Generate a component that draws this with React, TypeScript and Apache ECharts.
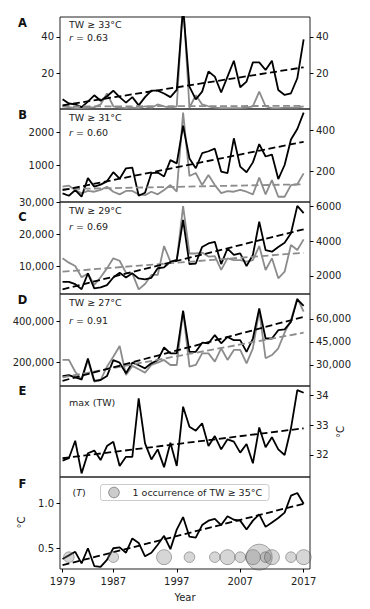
import React, { useEffect, useRef } from 'react';
import * as echarts from 'echarts';

const years = [1979, 1980, 1981, 1982, 1983, 1984, 1985, 1986, 1987, 1988, 1989, 1990, 1991, 1992, 1993, 1994, 1995, 1996, 1997, 1998, 1999, 2000, 2001, 2002, 2003, 2004, 2005, 2006, 2007, 2008, 2009, 2010, 2011, 2012, 2013, 2014, 2015, 2016, 2017];
const xTicks = [1979, 1987, 1997, 2007, 2017];
const trendYears = [1979, 2017];

// Panel A (TW >= 33)
const aBlack = [5.8, 3.5, 3.0, 1.5, 4.5, 8.0, 5.0, 7.5, 10.5, 7.0, 4.0, 7.0, 2.5, 7.0, 10.5, 10.5, 9.0, 7.0, 11.0, 56, 12.7, 5.8, 10.0, 21.0, 18.2, 9.5, 18.2, 26.9, 12.4, 15.5, 26.0, 26.0, 21.8, 26.9, 10.9, 8.2, 9.1, 17.3, 38.6];
const aGray = [2, 1.5, 1, 1, 1.2, 1.5, 3, 9, 2, 1.2, 1, 1.2, 1, 2, 1.2, 3, 2, 1.2, 2, 60, 1.2, 8, 3, 2, 1.2, 1, 1, 1, 1, 1.2, 2, 10, 2, 1, 1, 1.2, 1.2, 1.2, 2];
const aBlackTrend = [2.5, 23.3];
const aGrayTrend = [1.9, 2.2];
const aLeftTicks = [20, 40];
const aRightTicks = [20, 40];

// Panel B (TW >= 31)
const bBlack = [130, 60, 230, 30, 600, 340, 400, 500, 780, 580, 900, 920, 60, 150, 750, 770, 650, 1150, 1050, 2200, 1200, 900, 1360, 1420, 1500, 800, 750, 1816, 950, 780, 1080, 1640, 1260, 1320, 570, 1000, 1780, 2100, 2600];
const bGray = [122, 127, 106, 89, 101, 97, 106, 122, 97, 84, 101, 101, 84, 80, 97, 84, 106, 130, 97, 490, 175, 190, 130, 180, 130, 90, 100, 97, 106, 97, 84, 167, 84, 155, 72, 72, 130, 134, 188];
const bBlackTrend = [230, 1710];
const bGrayTrend = [110, 134];
const bLeftTicks = [1000, 2000];
const bRightTicks = [200, 400];

// Panel C (TW >= 29)
const cBlack = [5000, 5000, 4300, 2700, 7700, 3000, 3300, 4000, 6400, 7900, 6400, 7700, 6100, 5800, 6300, 9300, 9600, 11300, 11900, 24500, 10600, 10800, 16000, 17100, 17600, 10600, 15500, 13500, 14000, 10000, 13500, 23900, 15000, 14500, 16000, 17300, 20300, 28900, 26600];
const cGray = [3020, 2770, 2580, 1930, 2150, 1480, 1925, 2440, 3020, 2880, 2190, 2150, 1230, 1540, 2060, 2060, 3730, 2830, 2880, 6035, 3300, 3300, 3350, 3120, 3150, 2350, 3020, 2920, 2920, 2825, 2920, 3730, 2345, 3020, 1870, 2250, 3790, 3500, 4115];
const cBlackTrend = [2670, 21540];
const cGrayTrend = [2250, 3340];
const cLeftTicks = [10000, 20000, 30000];
const cRightTicks = [2000, 4000, 6000];

// Panel D (TW >= 27)
const dBlack = [136000, 140000, 130000, 120000, 220000, 113000, 117000, 136000, 212000, 200000, 149000, 200000, 188000, 173000, 197000, 212000, 273000, 245000, 245000, 449000, 252000, 252000, 296000, 293000, 332000, 293000, 324000, 308000, 308000, 252000, 316000, 460000, 316000, 316000, 356000, 360000, 396000, 504000, 472000];
const dGray = [33300, 33300, 25600, 20200, 33300, 19100, 20200, 28900, 35400, 42400, 23500, 29400, 27200, 25000, 30000, 31500, 33300, 30000, 30000, 65400, 28900, 30000, 37600, 37600, 32200, 40900, 33300, 39800, 39800, 31100, 40900, 65400, 34400, 36500, 40900, 51100, 59400, 73500, 64800];
const dBlackTrend = [113200, 420100];
const dGrayTrend = [21900, 51070];
const dLeftTicks = [200000, 400000];
const dRightTicks = [30000, 45000, 60000];

// Panel E max(TW)
const eMax = [31.81, 31.89, 32.48, 31.38, 32.06, 32.15, 31.83, 32.30, 32.45, 31.63, 31.94, 31.94, 33.91, 32.39, 31.85, 32.19, 31.59, 32.41, 31.63, 33.63, 32.95, 32.82, 33.07, 32.30, 32.64, 32.19, 32.53, 32.45, 32.08, 32.37, 31.72, 32.93, 32.26, 32.60, 32.19, 32.0, 32.9, 34.19, 34.10];
const eTrend = [31.89, 32.9];
const eTicks = [32, 33, 34];

// Panel F (T)
const fT = [0.38, 0.42, 0.46, 0.33, 0.50, 0.30, 0.29, 0.37, 0.50, 0.51, 0.45, 0.61, 0.56, 0.41, 0.45, 0.54, 0.64, 0.49, 0.71, 0.85, 0.63, 0.62, 0.76, 0.81, 0.83, 0.76, 0.86, 0.82, 0.81, 0.71, 0.81, 0.88, 0.74, 0.79, 0.84, 0.90, 1.09, 1.12, 1.00];
const fTrend = [0.31, 1.0];
const fTicks = [0.5, 1.0];
const bubbleYears = [1980, 1987, 1995, 1999, 2003, 2005, 2007, 2009, 2010, 2011, 2012, 2015, 2017];
const bubbleCounts = [1, 1, 2, 1, 1, 2, 1, 2, 6, 1, 2, 1, 2];
const bubbleLevel = 0.4;

const FONT = 'DejaVu Sans';
const TXT = '#222';
const BLACK = '#000';
const GRAY = '#8c8c8c';

const grids = [
  { top: 17, height: 92 },
  { top: 109, height: 93 },
  { top: 202, height: 92 },
  { top: 294, height: 92 },
  { top: 386, height: 91 },
  { top: 477, height: 92 },
];

const comma = (v: number) => Math.round(v).toLocaleString('en-US');
const plain = (v: number) => String(v);
const oneDec = (v: number) => v.toFixed(1);

function yAx(gridIndex: number, position: string, min: number, max: number, ticks: number[], fmt: (v: number) => string) {
  return {
    type: 'value', gridIndex, position, min, max,
    axisLine: { show: false },
    splitLine: { show: false },
    axisTick: { show: true, inside: false, length: 3.5, lineStyle: { color: '#000', width: 1 }, customValues: ticks },
    axisLabel: { show: true, margin: 6, customValues: ticks, formatter: fmt, fontSize: 10, fontFamily: FONT, color: TXT },
  };
}

function xAx(gridIndex: number, showTicks: boolean) {
  return {
    type: 'value', gridIndex, min: 1978.6, max: 2018,
    axisLine: { show: false },
    splitLine: { show: false },
    axisTick: { show: showTicks, length: 3.5, lineStyle: { color: '#000', width: 1 }, customValues: xTicks },
    axisLabel: { show: showTicks, margin: 7, customValues: xTicks, formatter: plain, fontSize: 10, fontFamily: FONT, color: TXT },
  };
}

const pairs = (vals: number[]) => years.map((y, i) => [y, vals[i]]);
const tpairs = (vals: number[]) => trendYears.map((y, i) => [y, vals[i]]);

function line(xi: number, yi: number, data: number[][], color: string, dashed: boolean, z: number) {
  return {
    type: 'line', xAxisIndex: xi, yAxisIndex: yi, data,
    symbol: 'none', showSymbol: false, silent: true, clip: true, z,
    lineStyle: { color, width: 1.8, type: dashed ? [7, 3.5] : 'solid' },
  };
}

function txt(x: number, y: number, text: string, extra: any = {}) {
  return {
    type: 'text', x, y, silent: true, z: 100,
    style: {
      text, fontSize: 9.5, fontFamily: FONT, fill: TXT,
      align: 'left', verticalAlign: 'middle', textAlign: 'left', textVerticalAlign: 'middle',
      rich: { i: { fontStyle: 'italic', fontSize: 9.5, fontFamily: FONT, fill: TXT } },
      ...extra,
    },
  };
}

function letter(x: number, y: number, t: string) {
  return txt(x, y, t, { fontSize: 11.5, fontWeight: 'bold', fill: '#111', align: 'center', textAlign: 'center' });
}

export default function App() {
  const ref = useRef<HTMLDivElement>(null);
  useEffect(() => {
    if (!ref.current) return;
    const chart = echarts.init(ref.current, undefined, { renderer: 'svg' });
    const option: any = {
      animation: false,
      backgroundColor: '#fff',
      grid: grids.map((g) => ({ left: 60, width: 250, top: g.top, height: g.height, show: true, borderColor: '#222', borderWidth: 1, backgroundColor: 'transparent' })),
      xAxis: grids.map((_, i) => xAx(i, i === 5)),
      yAxis: [
        yAx(0, 'left', 0.5, 50.8, aLeftTicks, plain),
        yAx(0, 'right', 0.5, 50.8, aRightTicks, plain),
        yAx(1, 'left', -131, 2712, bLeftTicks, plain),
        yAx(1, 'right', 46, 508, bRightTicks, plain),
        yAx(2, 'left', 1210, 30120, cLeftTicks, comma),
        yAx(2, 'right', 961, 6271, cRightTicks, plain),
        yAx(3, 'left', 88250, 529500, dLeftTicks, comma),
        yAx(3, 'right', 16300, 76300, dRightTicks, comma),
        yAx(4, 'right', 31.258, 34.327, eTicks, plain),
        yAx(5, 'left', 0.267, 1.30, fTicks, oneDec),
      ],
      series: [
        line(0, 1, pairs(aGray), GRAY, false, 2),
        line(0, 0, pairs(aBlack), BLACK, false, 3),
        line(0, 1, tpairs(aGrayTrend), GRAY, true, 4),
        line(0, 0, tpairs(aBlackTrend), BLACK, true, 5),

        line(1, 3, pairs(bGray), GRAY, false, 2),
        line(1, 2, pairs(bBlack), BLACK, false, 3),
        line(1, 3, tpairs(bGrayTrend), GRAY, true, 4),
        line(1, 2, tpairs(bBlackTrend), BLACK, true, 5),

        line(2, 5, pairs(cGray), GRAY, false, 2),
        line(2, 4, pairs(cBlack), BLACK, false, 3),
        line(2, 5, tpairs(cGrayTrend), GRAY, true, 4),
        line(2, 4, tpairs(cBlackTrend), BLACK, true, 5),

        line(3, 7, pairs(dGray), GRAY, false, 2),
        line(3, 6, pairs(dBlack), BLACK, false, 3),
        line(3, 7, tpairs(dGrayTrend), GRAY, true, 4),
        line(3, 6, tpairs(dBlackTrend), BLACK, true, 5),

        line(4, 8, pairs(eMax), BLACK, false, 3),
        line(4, 8, tpairs(eTrend), BLACK, true, 5),

        line(5, 9, pairs(fT), BLACK, false, 3),
        line(5, 9, tpairs(fTrend), BLACK, true, 5),
        {
          type: 'scatter', xAxisIndex: 5, yAxisIndex: 9, silent: true, z: 6,
          data: bubbleYears.map((y, i) => [y, bubbleLevel, bubbleCounts[i]]),
          symbol: 'circle',
          symbolSize: (v: number[]) => 10.6 * Math.sqrt(v[2]),
          itemStyle: { color: 'rgba(128,128,128,0.4)', borderColor: 'rgba(70,70,70,0.55)', borderWidth: 1 },
        },
      ],
      graphic: [
        letter(22.5, 22.5, 'A'),
        letter(22.5, 115, 'B'),
        letter(22.5, 217, 'C'),
        letter(22.5, 300, 'D'),
        letter(22.5, 391, 'E'),
        letter(22.5, 484, 'F'),

        txt(69, 24, 'TW ≥ 33°C'),
        txt(69, 37.5, '{i|r} = 0.63'),
        txt(69, 117, 'TW ≥ 31°C'),
        txt(69, 132.5, '{i|r} = 0.60'),
        txt(69, 210, 'TW ≥ 29°C'),
        txt(69, 226, '{i|r} = 0.69'),
        txt(69, 302.5, 'TW ≥ 27°C'),
        txt(69, 320, '{i|r} = 0.91'),
        txt(69, 402.5, 'max (TW)'),
        txt(72.5, 492.5, '({i|T})'),

        {
          type: 'rect', silent: true, z: 90,
          shape: { x: 100.5, y: 484.5, width: 168.5, height: 16, r: 2.5 },
          style: { fill: 'rgba(255,255,255,0.85)', stroke: '#cccccc', lineWidth: 1 },
        },
        {
          type: 'circle', silent: true, z: 91,
          shape: { cx: 114, cy: 492.5, r: 5.3 },
          style: { fill: 'rgba(128,128,128,0.4)', stroke: 'rgba(70,70,70,0.55)', lineWidth: 1 },
        },
        txt(132.5, 492.5, '1 occurrence of TW ≥ 35°C'),

        txt(340, 432, '°C', { fontSize: 10, align: 'center', textAlign: 'center' }),
        txt(21, 522.5, '°C', { fontSize: 10, align: 'center', textAlign: 'center' }),
        txt(185, 597, 'Year', { fontSize: 10, align: 'center', textAlign: 'center' }),
      ],
    };
    // rotate the two °C labels
    option.graphic[option.graphic.length - 3].rotation = Math.PI / 2;
    option.graphic[option.graphic.length - 2].rotation = Math.PI / 2;
    chart.setOption(option);
    return () => chart.dispose();
  }, []);
  return <div ref={ref} style={{ position: 'fixed', left: 0, top: 0, width: 370, height: 609 }} />;
}
